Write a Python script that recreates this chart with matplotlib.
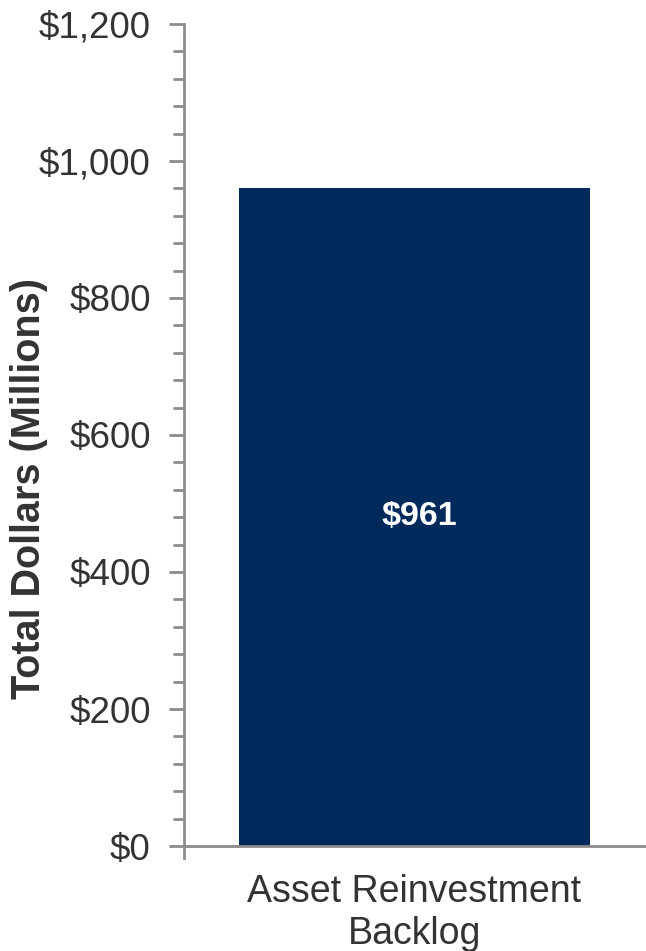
import matplotlib
matplotlib.use("Agg")
import matplotlib.pyplot as plt
from matplotlib.ticker import MultipleLocator, FuncFormatter

categories = ["Asset Reinvestment\nBacklog"]
values = [961]
value_labels = ["$961"]

BAR_COLOR = "#002a5c"
AXIS_COLOR = "#8c8c8c"
TEXT_COLOR = "#333333"

plt.rcParams["font.family"] = ["Liberation Sans", "DejaVu Sans"]

fig = plt.figure(figsize=(6.46, 9.51), dpi=100)
ax = fig.add_axes([0.2848, 0.1104, 0.7137, 0.8644])

x = list(range(len(categories)))
bars = ax.bar(x, values, width=0.76, color=BAR_COLOR, zorder=2)

for bar, lbl in zip(bars, value_labels):
    ax.text(bar.get_x() + bar.get_width() / 2 + 0.01, bar.get_height() * 0.5, lbl,
            ha="center", va="center", color="white", fontsize=24.5, fontweight="bold")

ax.set_xlim(-0.5, 0.5)
ax.set_ylim(0, 1200)
ax.yaxis.set_major_locator(MultipleLocator(200))
ax.yaxis.set_minor_locator(MultipleLocator(40))
ax.yaxis.set_major_formatter(FuncFormatter(lambda v, _: f"${v:,.0f}"))

ax.set_xticks(x)
ax.set_xticklabels(categories, fontsize=27, color=TEXT_COLOR, linespacing=1.22)
ax.tick_params(axis="x", length=0, pad=20)
ax.tick_params(axis="y", which="major", length=11, width=2, color=AXIS_COLOR,
               labelsize=26.5, labelcolor=TEXT_COLOR, pad=13)
ax.tick_params(axis="y", which="minor", length=8, width=2, color=AXIS_COLOR)

ax.set_ylabel("Total Dollars (Millions)", fontsize=28.5, fontweight="bold",
              color=TEXT_COLOR)
ax.yaxis.set_label_coords(-0.295, 0.435)

for side in ("top", "right"):
    ax.spines[side].set_visible(False)
for side in ("left", "bottom"):
    ax.spines[side].set_color(AXIS_COLOR)
    ax.spines[side].set_linewidth(2)

# small downward tick where the axes meet
ax.plot([-0.5, -0.5], [0, -18], color=AXIS_COLOR, lw=2, clip_on=False, zorder=3)

fig.savefig("out.png", dpi=100, facecolor="white")
